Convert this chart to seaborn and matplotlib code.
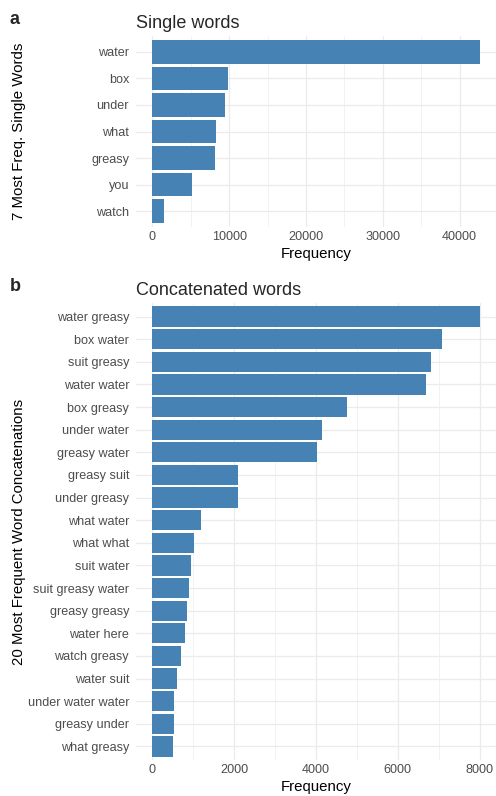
import matplotlib
matplotlib.use("Agg")
import matplotlib.pyplot as plt
import seaborn as sns
import pandas as pd
from matplotlib.ticker import MultipleLocator

# data
single_words = ["water", "box", "under", "what", "greasy", "you", "watch"]
single_freq = [42600, 9820, 9430, 8260, 8130, 5140, 1500]

concat_words = ["water greasy", "box water", "suit greasy", "water water", "box greasy",
                "under water", "greasy water", "greasy suit", "under greasy", "what water",
                "what what", "suit water", "suit greasy water", "greasy greasy", "water here",
                "watch greasy", "water suit", "under water water", "greasy under", "what greasy"]
concat_freq = [8000, 7070, 6800, 6700, 4750, 4140, 4020, 2090, 2090, 1190,
               1020, 940, 890, 850, 800, 700, 600, 530, 530, 500]

sns.set_theme(style="white")
plt.rcParams['font.family'] = ['Liberation Sans', 'DejaVu Sans']

W, H = 496, 796
fig = plt.figure(figsize=(W / 100, H / 100), dpi=100)

def px_axes(left, top, right, bottom):
    return fig.add_axes([left / W, 1 - bottom / H, (right - left) / W, (bottom - top) / H])

def style(ax, xmax, major, minor, ylabel):
    n = len(ax.get_yticks())
    ax.set_xlim(-0.05 * xmax, 1.05 * xmax)
    ax.set_ylim(n - 1 + 0.6, -0.6)
    ax.xaxis.set_major_locator(MultipleLocator(major))
    ax.xaxis.set_minor_locator(MultipleLocator(minor))
    ax.grid(True, which="major", axis="both", color="#EBEBEB", linewidth=0.9, zorder=0)
    ax.grid(True, which="minor", axis="x", color="#EBEBEB", linewidth=0.45, zorder=0)
    ax.set_axisbelow(True)
    for s in ax.spines.values():
        s.set_visible(False)
    ax.tick_params(axis="both", which="both", length=0, labelsize=9.1,
                   labelcolor="#4D4D4D")
    ax.tick_params(axis="y", pad=5)
    ax.tick_params(axis="x", pad=3)
    ax.set_xlabel("Frequency", fontsize=10.8, color="black", labelpad=3)
    ax.set_ylabel(ylabel, fontsize=10.8, color="black")

# panel a
ax1 = px_axes(136, 36, 496, 227)
df1 = pd.DataFrame({"word": single_words, "freq": single_freq})
sns.barplot(data=df1, x="freq", y="word", orient="h", color="steelblue",
            saturation=1, width=0.9, linewidth=0, ax=ax1)
style(ax1, 42600, 10000, 5000, "7 Most Freq. Single Words")
ax1.yaxis.set_label_coords(-110 / 360, 0.5)
ax1.set_title("Single words", loc="left", fontsize=13, pad=6)

# panel b
ax2 = px_axes(136, 303, 496, 760)
df2 = pd.DataFrame({"word": concat_words, "freq": concat_freq})
sns.barplot(data=df2, x="freq", y="word", orient="h", color="steelblue",
            saturation=1, width=0.9, linewidth=0, ax=ax2)
style(ax2, 8000, 2000, 1000, "20 Most Frequent Word Concatenations")
ax2.yaxis.set_label_coords(-110 / 360, 0.5)
ax2.set_title("Concatenated words", loc="left", fontsize=13, pad=6)

fig.text(10 / W, 1 - 19 / H, "a", fontsize=13, fontweight="bold", va="center")
fig.text(10 / W, 1 - 286 / H, "b", fontsize=13, fontweight="bold", va="center")

fig.savefig("out.png", dpi=100)
